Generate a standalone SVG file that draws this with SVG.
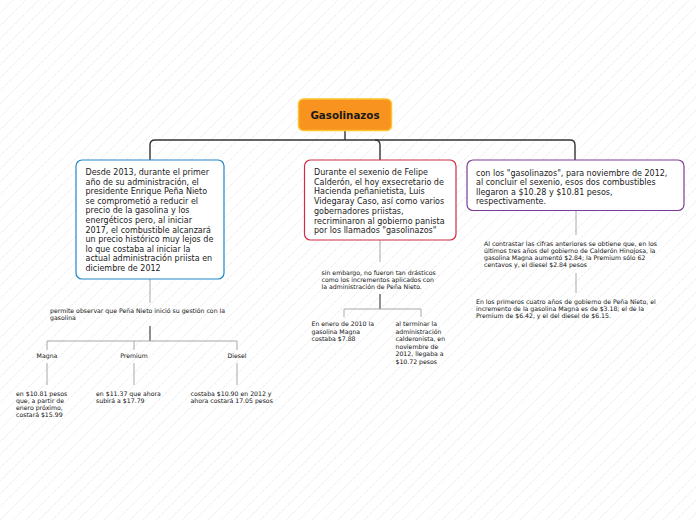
<svg xmlns="http://www.w3.org/2000/svg" width="696" height="520" viewBox="0 0 696 520">
<defs>
<pattern id="hatch" width="13" height="13" patternUnits="userSpaceOnUse">
<path d="M-1,14 L14,-1" stroke="#d2d2d2" stroke-width="0.7" stroke-dasharray="1 1"/>
</pattern>
<style>
.bt{font-family:"DejaVu Sans",Verdana,sans-serif;font-size:8px;fill:#1a1a1a}
.st{font-family:"DejaVu Sans",Verdana,sans-serif;font-size:6.2px;fill:#111}
.mid{text-anchor:middle}
.main{fill:none;stroke:#333;stroke-width:1.4}
.lt{fill:none;stroke:#a8a8a8;stroke-width:1}
.dk{fill:none;stroke:#555;stroke-width:1.3}
.box{fill:#fff;stroke-width:1.2}
</style>
</defs>
<rect width="696" height="520" fill="#fff"/>
<rect width="696" height="520" fill="url(#hatch)"/>

<g id="connectors">
<path class="main" d="M345,131 V140"/>
<path class="main" d="M150,160 V145 Q150,140 155,140 H570 Q575,140 575,145 V160"/>
<path class="main" d="M375,140 Q380,140 380,145 V160"/>
<path class="lt" d="M150,279 V303"/>
<path class="dk" d="M150,326 V341"/>
<path class="lt" d="M47,350 V341 H237 V350 M134,341 V350"/>
<path class="lt" d="M47,363 V385 M134,363 V385 M237,363 V385"/>
<path class="lt" d="M380,240 V262"/>
<path class="dk" d="M380,294 V309"/>
<path class="lt" d="M344,317 V309 H421 V317"/>
<path class="lt" d="M576,210 V235"/>
<path class="lt" d="M576,273 V293"/>
</g>

<g id="root">
<rect x="298.5" y="99" width="93" height="31.5" rx="5" fill="#F7931E" stroke="#FDC32C" stroke-width="1.5"/>
<text x="345" y="118.7" class="mid" style="font-family:'DejaVu Sans',Verdana,sans-serif;font-size:10.3px;font-weight:bold;fill:#1a1a1a">Gasolinazos</text>
</g>

<g id="node-desde2013">
<rect class="box" x="76" y="160" width="148" height="119" rx="6" stroke="#1E88C9"/>
<text class="bt" x="85.5" y="175">Desde 2013, durante el primer</text>
<text class="bt" x="85.5" y="184.6">año de su administración, el</text>
<text class="bt" x="85.5" y="194.2">presidente Enrique Peña Nieto</text>
<text class="bt" x="85.5" y="203.8">se comprometió a reducir el</text>
<text class="bt" x="85.5" y="213.4">precio de la gasolina y los</text>
<text class="bt" x="85.5" y="223">energéticos pero, al iniciar</text>
<text class="bt" x="85.5" y="232.6">2017, el combustible alcanzará</text>
<text class="bt" x="85.5" y="242.2">un precio histórico muy lejos de</text>
<text class="bt" x="85.5" y="251.8">lo que costaba al iniciar la</text>
<text class="bt" x="85.5" y="261.4">actual administración priista en</text>
<text class="bt" x="85.5" y="271">diciembre de 2012</text>
</g>

<g id="node-sexenio">
<rect class="box" x="304.5" y="160" width="151.5" height="80" rx="6" stroke="#D42A44"/>
<text class="bt" x="314" y="175">Durante el sexenio de Felipe</text>
<text class="bt" x="314" y="184.7">Calderón, el hoy exsecretario de</text>
<text class="bt" x="314" y="194.4">Hacienda peñanietista, Luis</text>
<text class="bt" x="314" y="204.1">Videgaray Caso, así como varios</text>
<text class="bt" x="314" y="213.8">gobernadores priistas,</text>
<text class="bt" x="314" y="223.5">recriminaron al gobierno panista</text>
<text class="bt" x="314" y="233.2">por los llamados "gasolinazos"</text>
</g>

<g id="node-noviembre">
<rect class="box" x="467" y="160" width="217" height="50.5" rx="6" stroke="#7A3C98"/>
<text class="bt" x="476" y="175.5">con los "gasolinazos", para noviembre de 2012,</text>
<text class="bt" x="476" y="185">al concluir el sexenio, esos dos combustibles</text>
<text class="bt" x="476" y="194.5">llegaron a $10.28 y $10.81 pesos,</text>
<text class="bt" x="476" y="204">respectivamente.</text>
</g>

<g id="node-permite">
<text class="st" x="50" y="312.5">permite observar que Peña Nieto inició su gestión con la</text>
<text class="st" x="50" y="319.5">gasolina</text>
</g>
<g id="node-magna"><text class="st mid" x="47" y="357.5">Magna</text></g>
<g id="node-premium"><text class="st mid" x="134" y="357.5">Premium</text></g>
<g id="node-diesel"><text class="st mid" x="237" y="357.5">Diesel</text></g>

<g id="node-magna-precio">
<text class="st" x="16" y="395.5">en $10.81 pesos</text>
<text class="st" x="16" y="402.5">que, a partir de</text>
<text class="st" x="16" y="409.5">enero próximo,</text>
<text class="st" x="16" y="416.5">costará $15.99</text>
</g>
<g id="node-premium-precio">
<text class="st" x="96" y="395.5">en $11.37 que ahora</text>
<text class="st" x="96" y="402.5">subirá a $17.79</text>
</g>
<g id="node-diesel-precio">
<text class="st" x="190.5" y="395.5">costaba $10.90 en 2012 y</text>
<text class="st" x="190.5" y="402.5">ahora costará 17.05 pesos</text>
</g>

<g id="node-sinembargo">
<text class="st" x="321.5" y="274.5">sin embargo, no fueron tan drásticos</text>
<text class="st" x="321.5" y="281.7">como los incrementos aplicados con</text>
<text class="st" x="321.5" y="288.9">la administración de Peña Nieto.</text>
</g>
<g id="node-enero2010">
<text class="st" x="311.5" y="326">En enero de 2010 la</text>
<text class="st" x="311.5" y="333.5">gasolina Magna</text>
<text class="st" x="311.5" y="341">costaba $7.88</text>
</g>
<g id="node-alterminar">
<text class="st" x="395.5" y="326">al terminar la</text>
<text class="st" x="395.5" y="333.5">administración</text>
<text class="st" x="395.5" y="341">calderonista, en</text>
<text class="st" x="395.5" y="348.5">noviembre de</text>
<text class="st" x="395.5" y="356">2012, llegaba a</text>
<text class="st" x="395.5" y="363.5">$10.72 pesos</text>
</g>

<g id="node-contrastar">
<text class="st" x="484" y="245.5">Al contrastar las cifras anteriores se obtiene que, en los</text>
<text class="st" x="484" y="252.5">últimos tres años del gobierno de Calderón Hinojosa, la</text>
<text class="st" x="484" y="259.5">gasolina Magna aumentó $2.84; la Premium sólo 62</text>
<text class="st" x="484" y="266.5">centavos y, el diesel $2.84 pesos</text>
</g>
<g id="node-primeros">
<text class="st" x="476" y="304">En los primeros cuatro años de gobierno de Peña Nieto, el</text>
<text class="st" x="476" y="311.2">incremento de la gasolina Magna es de $3.18; el de la</text>
<text class="st" x="476" y="318.4">Premium de $6.42, y el del diesel de $6.15.</text>
</g>
</svg>
